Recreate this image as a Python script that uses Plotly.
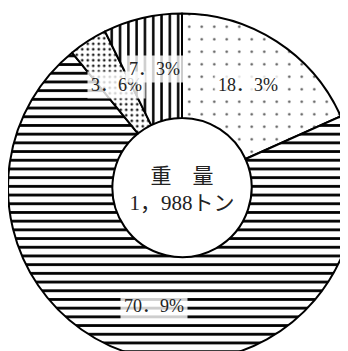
import numpy as np
import plotly.graph_objects as go

# ── data ───────────────────────────────────────────────────────────────────────
categories = ["区分A", "区分B", "区分C", "区分D"]
shares = [18.3, 70.9, 3.6, 7.3]
share_labels = ["18．3%", "70．9%", "3．6%", "7．3%"]
center_title = ["重　量", "1，988トン"]

# ── styling ────────────────────────────────────────────────────────────────────
W, H = 348, 355
HOLE = 0.40
SERIF = "Liberation Serif, Noto Sans CJK JP, serif"

patterns = [
    dict(shape=".", size=12.5, solidity=0.03, fgcolor="#555", bgcolor="white"),
    dict(shape="-", size=8.7, solidity=0.32, fgcolor="black", bgcolor="white"),
    dict(shape=".", size=5.5, solidity=0.2, fgcolor="#222", bgcolor="white"),
    dict(shape="|", size=8.3, solidity=0.3, fgcolor="black", bgcolor="white"),
]

dom_y = [0, 351 / H]

fig = go.Figure(go.Pie(
    labels=categories,
    values=shares,
    sort=False,
    direction="clockwise",
    rotation=0,
    hole=HOLE,
    textinfo="none",
    marker=dict(pattern=dict(
                    shape=[p["shape"] for p in patterns],
                    size=[p["size"] for p in patterns],
                    solidity=[p["solidity"] for p in patterns],
                    fgcolor=[p["fgcolor"] for p in patterns],
                    bgcolor=[p["bgcolor"] for p in patterns],
                    fillmode="replace"),
                line=dict(color="black", width=2)),
    domain=dict(x=[0, 1], y=dom_y),
    title=dict(text="<br>".join(center_title), position="middle center",
               font=dict(family=SERIF, size=21, color="#222")),
    showlegend=False,
))

# label boxes at the middle of each ring segment
R = min(W, H * (dom_y[1] - dom_y[0])) / 2
cx, cy = 0.5, (dom_y[0] + dom_y[1]) / 2
r_mid = (HOLE + 1) / 2 * R
cum = np.cumsum([0] + shares)
total = cum[-1]
for i, txt in enumerate(share_labels):
    theta = np.deg2rad((cum[i] + cum[i + 1]) / 2 / total * 360)
    fig.add_annotation(
        x=cx + r_mid * np.sin(theta) / W,
        y=cy + r_mid * np.cos(theta) / H,
        xref="paper", yref="paper", xanchor="center", yanchor="middle",
        text=txt, showarrow=False,
        font=dict(family=SERIF, size=18, color="#222"),
        bgcolor="rgba(255,255,255,0.8)", borderpad=3,
    )

fig.update_layout(width=W, height=H, margin=dict(l=0, r=0, t=0, b=0),
                  paper_bgcolor="white", plot_bgcolor="white")
fig.write_html("out.html")
